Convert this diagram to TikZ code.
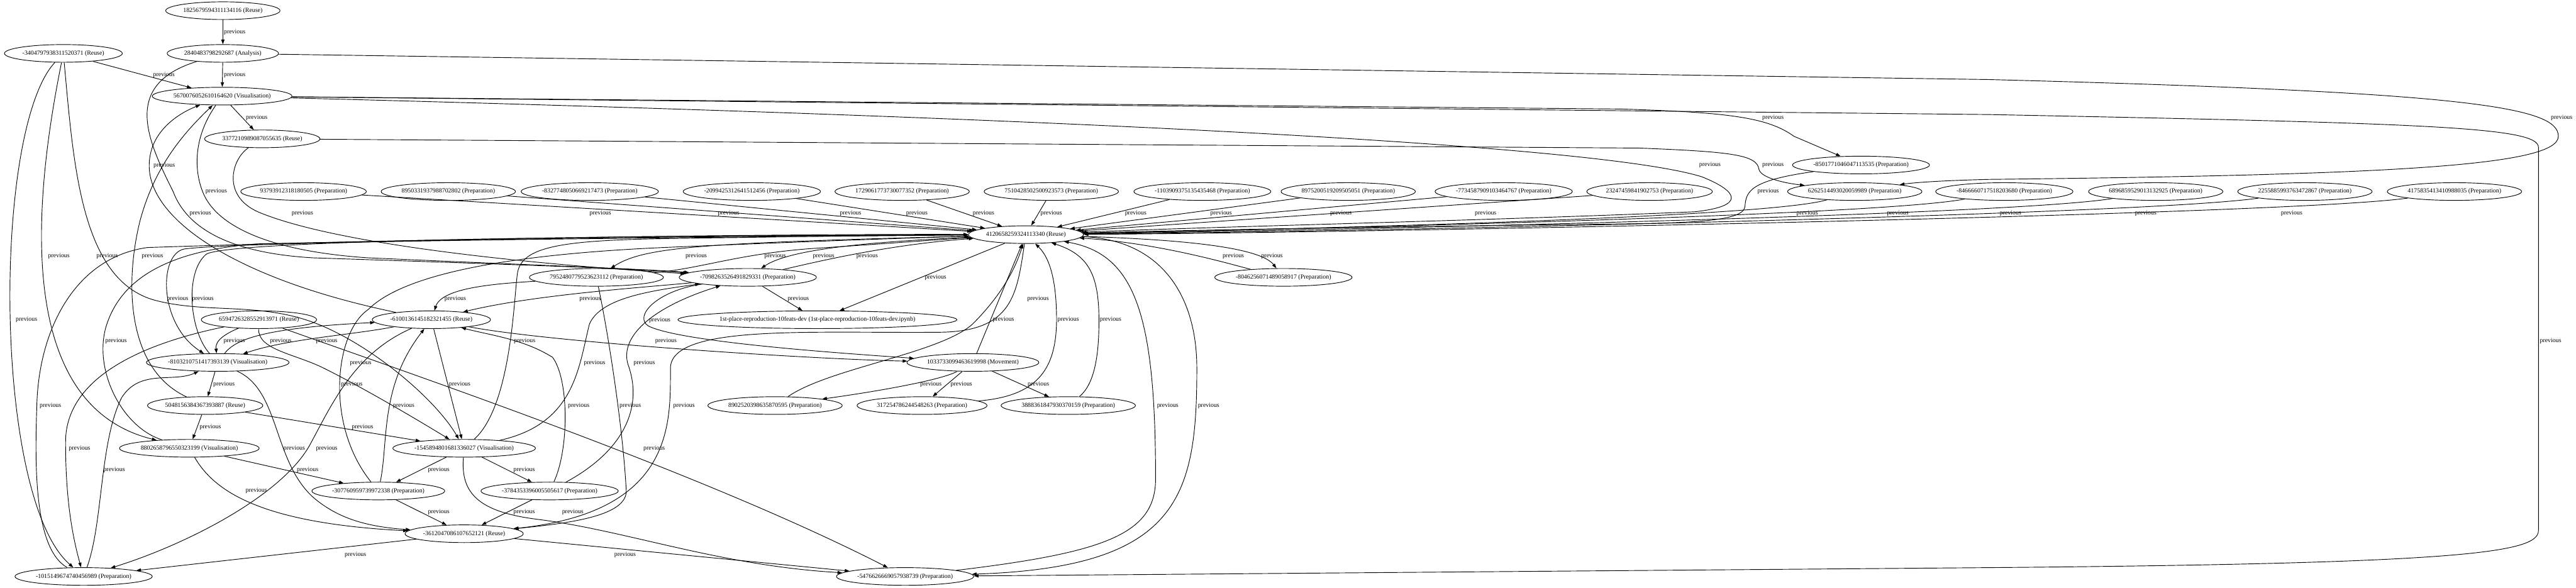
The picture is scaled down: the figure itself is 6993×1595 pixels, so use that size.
\documentclass[tikz,border=0pt]{standalone}
\usepackage{fontspec}
\setmainfont{Liberation Serif}
\usetikzlibrary{arrows.meta,shapes.geometric}

\tikzset{
  gnode/.style={draw, ellipse, line width=0.45pt, minimum height=0.48cm, inner xsep=0.6pt, inner ysep=0pt, font=\fontsize{4.8}{5.8}\selectfont},
  prev/.style={-{Triangle[length=3.6pt,width=2.5pt]}, line width=0.45pt},
  lbl/.style={font=\fontsize{4.8}{5.8}\selectfont, inner sep=0pt}
}

\begin{document}
\begin{tikzpicture}[x=0.01cm,y=0.01cm]
\useasboundingbox (0,0) rectangle (6993,-1595);
% upper chain
\node[gnode] (n1825) at (605,-29) {1825679594311134116 (Reuse)};
\node[gnode] (n3404) at (172,-145) {-3404797938311520371 (Reuse)};
\node[gnode] (n2840) at (605,-145) {2840483798292687 (Analysis)};
\node[gnode] (n5670) at (603,-261) {5670076052610164620 (Visualisation)};
\node[gnode] (n3377) at (712,-377) {3377210989087055635 (Reuse)};
\node[gnode] (n8501) at (5052,-448) {-8501771046047113535 (Preparation)};
% preparation row
\node[gnode] (p9379) at (824,-520) {93793912318180505 (Preparation)};
\node[gnode] (p8950) at (1217,-520) {8950331937988702802 (Preparation)};
\node[gnode] (p8327) at (1601,-520) {-8327748050669217473 (Preparation)};
\node[gnode] (p2099) at (2041,-520) {-2099425312641512456 (Preparation)};
\node[gnode] (p1729) at (2449,-520) {1729061773730077352 (Preparation)};
\node[gnode] (p7510) at (2854,-520) {7510428502500923573 (Preparation)};
\node[gnode] (p1103) at (3264,-520) {-1103909375135435468 (Preparation)};
\node[gnode] (p8975) at (3660,-520) {8975200519209505051 (Preparation)};
\node[gnode] (p7734) at (4082,-520) {-7734587909103464767 (Preparation)};
\node[gnode] (p2324) at (4478,-520) {23247459841902753 (Preparation)};
\node[gnode] (p6262) at (5035,-520) {6262514493020059989 (Preparation)};
\node[gnode] (p8466) at (5441,-520) {-8466660717518203680 (Preparation)};
\node[gnode] (p6896) at (5852,-520) {6896859529013132925 (Preparation)};
\node[gnode] (p2255) at (6257,-520) {2255885993763472867 (Preparation)};
\node[gnode] (p4175) at (6663,-520) {4175835413410988035 (Preparation)};
% hub and lower part
\node[gnode] (H) at (2785,-637) {4120658259324113340 (Reuse)};
\node[gnode] (n7952) at (1619,-753) {7952480779523623112 (Preparation)};
\node[gnode] (n7098) at (2030,-753) {-7098263526491829331 (Preparation)};
\node[gnode] (n8046) at (3484,-753) {-8046256071489058917 (Preparation)};
\node[gnode] (n6594) at (703,-868) {6594726328552913971 (Reuse)};
\node[gnode] (n6100) at (1171,-868) {-6100136145182321455 (Reuse)};
\node[gnode] (n1st) at (2219,-868) {1st-place-reproduction-10feats-dev (1st-place-reproduction-10feats-dev.ipynb)};
\node[gnode] (n8103) at (591,-984) {-8103210751417393139 (Visualisation)};
\node[gnode] (n1033) at (2641,-984) {1033733099463619998 (Movement)};
\node[gnode] (n5048) at (557,-1101) {5048156384367393887 (Reuse)};
\node[gnode] (n8902) at (2104,-1101) {8902520398635870595 (Preparation)};
\node[gnode] (n3172) at (2503,-1101) {317254786244548263 (Preparation)};
\node[gnode] (n3888) at (2900,-1101) {3888361847930370159 (Preparation)};
\node[gnode] (n8802) at (514,-1217) {8802658796550323199 (Visualisation)};
\node[gnode] (n1545) at (1260,-1217) {-1545894801681336027 (Visualisation)};
\node[gnode] (n3077) at (1027,-1333) {-307760959739972338 (Preparation)};
\node[gnode] (n3784) at (1492,-1333) {-3784353396005505617 (Preparation)};
\node[gnode] (n3612) at (1260,-1449) {-3612047086107652121 (Reuse)};
\node[gnode] (n1015) at (227,-1565) {-1015149674740456989 (Preparation)};
\node[gnode] (n5476) at (2457,-1565) {-5476626669057938739 (Preparation)};

% upper chain edges
\draw[prev] (n1825) -- (n2840) node[lbl] at (637,-87) {previous};
\draw[prev] (n2840) -- (n5670) node[lbl] at (637,-203) {previous};
\draw[prev] (n3404) -- (n5670) node[lbl] at (445,-203) {previous};
\draw[prev] (n5670) -- (n3377) node[lbl] at (697,-319) {previous};
% long edges to the right
\draw[prev] (n2840) -- (5400,-216) .. controls (6700,-250) and (6945,-290) .. (6945,-370) .. controls (6945,-450) and (6500,-475) .. (5400,-487) .. controls (5280,-490) and (5200,-495) .. (p6262) node[lbl] at (6954,-319) {previous};
\draw[prev] (n5670) -- (5400,-311) .. controls (6600,-335) and (6891,-345) .. (6891,-400) -- (6891,-1440) .. controls (6891,-1500) and (6700,-1530) .. (5400,-1541) -- (n5476) node[lbl] at (6924,-926) {previous};
\draw[prev] (n5670) -- (4400,-296) .. controls (4700,-305) and (4800,-320) .. (4870,-370) -- (n8501) node[lbl] at (4813,-319) {previous};
\draw[prev] (n5670) .. controls (2500,-310) and (4300,-380) .. (4620,-480) .. controls (4720,-520) and (4740,-560) .. (4600,-575) .. controls (4000,-600) and (3300,-615) .. (H) node[lbl] at (4642,-448) {previous};
\draw[prev] (n3377) -- (4450,-402) .. controls (4700,-412) and (4770,-420) .. (4775,-460) .. controls (4780,-480) and (4830,-495) .. (p6262) node[lbl] at (4813,-448) {previous};
\draw[prev] (n8501) .. controls (4750,-490) and (4740,-520) .. (4737,-560) .. controls (4735,-600) and (4600,-605) .. (4400,-608) .. controls (3800,-615) and (3200,-625) .. (H) node[lbl] at (4800,-520) {previous};
% preparation row into the hub
\draw[prev] (p9379) -- (H) node[lbl] at (1630,-579) {previous};
\draw[prev] (p8950) -- (H) node[lbl] at (1978,-579) {previous};
\draw[prev] (p8327) -- (H) node[lbl] at (2309,-579) {previous};
\draw[prev] (p2099) -- (H) node[lbl] at (2489,-579) {previous};
\draw[prev] (p1729) -- (H) node[lbl] at (2670,-579) {previous};
\draw[prev] (p7510) -- (H) node[lbl] at (2854,-579) {previous};
\draw[prev] (p1103) -- (H) node[lbl] at (3083,-579) {previous};
\draw[prev] (p8975) -- (H) node[lbl] at (3315,-579) {previous};
\draw[prev] (p7734) -- (H) node[lbl] at (3640,-579) {previous};
\draw[prev] (p2324) -- (H) node[lbl] at (4033,-579) {previous};
\draw[prev] (p6262) .. controls (4800,-590) and (3600,-620) .. (H) node[lbl] at (4906,-579) {previous};
\draw[prev] (p8466) .. controls (5100,-585) and (3600,-620) .. (H) node[lbl] at (5152,-579) {previous};
\draw[prev] (p6896) .. controls (5450,-585) and (3600,-625) .. (H) node[lbl] at (5458,-579) {previous};
\draw[prev] (p2255) .. controls (5800,-585) and (3600,-630) .. (H) node[lbl] at (5825,-579) {previous};
\draw[prev] (p4175) .. controls (6200,-585) and (3600,-633) .. (H) node[lbl] at (6221,-579) {previous};
% around the hub
\draw[prev] (H) -- (n1st) node[lbl] at (2540,-753) {previous};
\draw[prev] (n7098) -- (n1st) node[lbl] at (2167,-811) {previous};
\draw[prev] (H) .. controls (2400,-655) and (2150,-672) .. (n7098) node[lbl] at (2104,-695) {previous};
\draw[prev] (n7098) .. controls (2200,-715) and (2400,-665) .. (H) node[lbl] at (2354,-695) {previous};
\draw[prev] (H) .. controls (1900,-660) and (1750,-670) .. (n7952) node[lbl] at (1890,-695) {previous};
\draw[prev] (n7952) .. controls (1900,-730) and (2000,-690) .. (2200,-675) .. controls (2400,-662) and (2550,-650) .. (H) node[lbl] at (2236,-695) {previous};
\draw[prev] (H) .. controls (3200,-650) and (3420,-670) .. (n8046) node[lbl] at (3453,-695) {previous};
\draw[prev] (n8046) .. controls (3350,-720) and (3150,-660) .. (H) node[lbl] at (3348,-695) {previous};
\draw[prev] (n1033) -- (H) node[lbl] at (2818,-811) {previous};
\draw[prev] (n1033) .. controls (2560,-1030) and (2400,-1060) .. (n8902) node[lbl] at (2527,-1043) {previous};
\draw[prev] (n1033) -- (n3172) node[lbl] at (2610,-1043) {previous};
\draw[prev] (n1033) -- (n3888) node[lbl] at (2819,-1043) {previous};
\draw[prev] (n8902) .. controls (2250,-1000) and (2550,-960) .. (2640,-880) .. controls (2700,-820) and (2750,-750) .. (H) node[lbl] at (2724,-868) {previous};
\draw[prev] (n3172) .. controls (2820,-1075) and (2872,-1000) .. (2868,-850) .. controls (2866,-760) and (2850,-700) .. (H) node[lbl] at (2900,-868) {previous};
\draw[prev] (n3888) .. controls (2975,-1040) and (2985,-950) .. (2983,-850) .. controls (2980,-740) and (2950,-690) .. (H) node[lbl] at (3015,-868) {previous};
\draw[prev] (n5476) .. controls (3000,-1500) and (3137,-1450) .. (3137,-1300) .. controls (3137,-850) and (3080,-690) .. (H) node[lbl] at (3170,-1101) {previous};
\draw[prev] (H) .. controls (3150,-650) and (3249,-800) .. (3249,-1000) .. controls (3249,-1350) and (3200,-1540) .. (n5476) node[lbl] at (3281,-1101) {previous};
\draw[prev] (H) .. controls (2760,-800) and (2750,-900) .. (2550,-902) .. controls (2200,-905) and (1820,-880) .. (1820,-1000) .. controls (1820,-1150) and (1830,-1390) .. (n3612) node[lbl] at (1857,-1101) {previous};
\draw[prev] (n6100) .. controls (1500,-930) and (2200,-975) .. (n1033) node[lbl] at (1808,-926) {previous};
\draw[prev] (n7098) .. controls (1780,-790) and (1720,-860) .. (1760,-885) .. controls (1850,-930) and (2300,-960) .. (n1033) node[lbl] at (1791,-869) {previous};
% left part, from the top
\draw[prev] (n3404) .. controls (-20,-350) and (-20,-1350) .. (n1015) node[lbl] at (72,-868) {previous};
\draw[prev] (n3404) .. controls (90,-550) and (40,-1100) .. (n8802) node[lbl] at (160,-695) {previous};
\draw[prev] (n3404) .. controls (200,-450) and (220,-760) .. (420,-815) .. controls (560,-852) and (700,-820) .. (850,-875) .. controls (1000,-930) and (1180,-1080) .. (n1545) node[lbl] at (291,-695) {previous};
\draw[prev] (n6100) .. controls (650,-760) and (405,-600) .. (405,-450) .. controls (405,-360) and (480,-310) .. (n5670) node[lbl] at (446,-449) {previous};
\draw[prev] (n5048) .. controls (340,-1000) and (340,-760) .. (380,-600) .. controls (420,-450) and (500,-360) .. (n5670) node[lbl] at (414,-695) {previous};
\draw[prev] (n2840) .. controls (330,-230) and (400,-380) .. (470,-520) .. controls (500,-600) and (590,-685) .. (850,-700) .. controls (1300,-715) and (1700,-728) .. (n7098) node[lbl] at (544,-579) {previous};
\draw[prev] (n5670) .. controls (520,-380) and (530,-470) .. (550,-520) .. controls (580,-600) and (700,-680) .. (1000,-700) .. controls (1400,-718) and (1750,-730) .. (n7098) node[lbl] at (587,-520) {previous};
\draw[prev] (n3377) .. controls (630,-430) and (600,-530) .. (700,-575) .. controls (900,-660) and (1400,-715) .. (n7098) node[lbl] at (821,-579) {previous};
\draw[prev] (n1015) .. controls (90,-1490) and (95,-1250) .. (100,-1100) .. controls (105,-900) and (200,-700) .. (400,-672) .. controls (1200,-645) and (2200,-635) .. (H) node[lbl] at (137,-1101) {previous};
\draw[prev] (H) .. controls (1800,-645) and (650,-655) .. (500,-676) .. controls (430,-690) and (430,-880) .. (n8103) node[lbl] at (482,-811) {previous};
\draw[prev] (n8103) .. controls (515,-900) and (500,-740) .. (560,-690) .. controls (620,-655) and (1500,-640) .. (H) node[lbl] at (551,-811) {previous};
\draw[prev] (n8802) .. controls (330,-1160) and (250,-1000) .. (290,-880) .. controls (330,-760) and (450,-680) .. (700,-662) .. controls (1500,-645) and (2300,-638) .. (H) node[lbl] at (315,-926) {previous};
% left part, middle
\draw[prev] (n6594) .. controls (590,-915) and (585,-935) .. (n8103) node[lbl] at (636,-926) {previous};
\draw[prev] (n8103) .. controls (640,-920) and (720,-890) .. (n6100) node[lbl] at (762,-926) {previous};
\draw[prev] (n6100) .. controls (950,-910) and (780,-920) .. (n8103) node[lbl] at (887,-926) {previous};
\draw[prev] (n1015) .. controls (280,-1420) and (270,-1200) .. (330,-1080) .. controls (380,-1000) and (470,-1040) .. (n8103) node[lbl] at (310,-1275) {previous};
\draw[prev] (n8103) -- (n5048) node[lbl] at (608,-1043) {previous};
\draw[prev] (n5048) -- (n8802) node[lbl] at (571,-1159) {previous};
\draw[prev] (n5048) -- (n1545) node[lbl] at (984,-1159) {previous};
\draw[prev] (n6594) .. controls (450,-920) and (178,-1000) .. (178,-1200) .. controls (178,-1350) and (195,-1450) .. (n1015) node[lbl] at (216,-1217) {previous};
\draw[prev] (n6594) .. controls (700,-950) and (800,-960) .. (880,-1000) .. controls (1000,-1060) and (1150,-1150) .. (n1545) node[lbl] at (955,-1043) {previous};
\draw[prev] (n6100) .. controls (960,-960) and (900,-1100) .. (840,-1210) .. controls (760,-1350) and (500,-1480) .. (n1015) node[lbl] at (887,-1217) {previous};
\draw[prev] (n8103) .. controls (760,-1060) and (740,-1250) .. (850,-1350) .. controls (920,-1410) and (1000,-1430) .. (n3612) node[lbl] at (799,-1217) {previous};
\draw[prev] (n6594) .. controls (1100,-1010) and (1900,-1280) .. (n5476) node[lbl] at (1776,-1217) {previous};
\draw[prev] (n6100) -- (n1545) node[lbl] at (1248,-1043) {previous};
\draw[prev] (n7952) .. controls (1350,-770) and (1200,-780) .. (n6100) node[lbl] at (1236,-811) {previous};
\draw[prev] (n7098) .. controls (1750,-780) and (1450,-800) .. (n6100) node[lbl] at (1602,-811) {previous};
% left part, lower
\draw[prev] (n8802) -- (n3077) node[lbl] at (835,-1275) {previous};
\draw[prev] (n8802) .. controls (580,-1330) and (700,-1420) .. (n3612) node[lbl] at (696,-1333) {previous};
\draw[prev] (n1545) -- (n3077) node[lbl] at (1191,-1275) {previous};
\draw[prev] (n1545) -- (n3784) node[lbl] at (1423,-1275) {previous};
\draw[prev] (n3077) -- (n3612) node[lbl] at (1191,-1391) {previous};
\draw[prev] (n3784) -- (n3612) node[lbl] at (1423,-1391) {previous};
\draw[prev] (n3612) -- (n1015) node[lbl] at (965,-1507) {previous};
\draw[prev] (n3612) -- (n5476) node[lbl] at (1697,-1507) {previous};
\draw[prev] (n3077) .. controls (1055,-1200) and (1030,-1050) .. (n6100) node[lbl] at (1096,-1101) {previous};
\draw[prev] (n3077) .. controls (880,-1150) and (910,-900) .. (1000,-840) .. controls (1100,-740) and (1400,-690) .. (1800,-672) .. controls (2200,-655) and (2500,-645) .. (H) node[lbl] at (979,-985) {previous};
\draw[prev] (n1545) .. controls (1390,-1100) and (1395,-800) .. (1405,-740) .. controls (1420,-650) and (1600,-650) .. (2000,-645) .. controls (2300,-640) and (2500,-638) .. (H) node[lbl] at (1424,-926) {previous};
\draw[prev] (n1545) .. controls (1560,-1150) and (1570,-1000) .. (1600,-880) .. controls (1630,-810) and (1760,-790) .. (n7098) node[lbl] at (1614,-985) {previous};
\draw[prev] (n3784) .. controls (1700,-1220) and (1745,-1100) .. (1705,-990) .. controls (1680,-910) and (1780,-830) .. (n7098) node[lbl] at (1749,-985) {previous};
\draw[prev] (n7952) .. controls (1650,-900) and (1690,-1150) .. (1700,-1330) .. controls (1705,-1400) and (1550,-1420) .. (n3612) node[lbl] at (1711,-1101) {previous};
\draw[prev] (n3784) .. controls (1545,-1220) and (1545,-1030) .. (1500,-970) .. controls (1420,-920) and (1330,-910) .. (n6100) node[lbl] at (1571,-1101) {previous};
\draw[prev] (n1545) .. controls (1250,-1340) and (1300,-1390) .. (1460,-1410) .. controls (1700,-1440) and (1950,-1535) .. (n5476) node[lbl] at (1555,-1391) {previous};
\end{tikzpicture}
\end{document}
